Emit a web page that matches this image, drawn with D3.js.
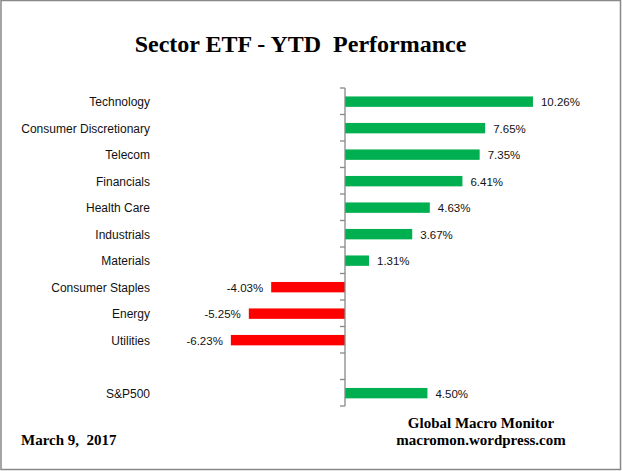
<!DOCTYPE html>
<html><head><meta charset="utf-8">
<script src="https://cdn.jsdelivr.net/npm/d3@7"></script>
<style>body{margin:0;background:#fff}svg{display:block}</style>
</head><body>
<script>
const categories = ["Technology","Consumer Discretionary","Telecom","Financials","Health Care","Industrials","Materials","Consumer Staples","Energy","Utilities","","S&P500"];
const values = [10.26,7.65,7.35,6.41,4.63,3.67,1.31,-4.03,-5.25,-6.23,null,4.50];
const valueLabels = ["10.26%","7.65%","7.35%","6.41%","4.63%","3.67%","1.31%","-4.03%","-5.25%","-6.23%","","4.50%"];
const title = "Sector ETF - YTD\u00a0 Performance";
const dateText = "March 9,\u00a0 2017";
const sourceLines = ["Global Macro Monitor","macromon.wordpress.com"];

const W = 622, H = 471;
const svg = d3.select("body").append("svg").attr("width", W).attr("height", H);
svg.append("rect").attr("x",1).attr("y",0.5).attr("width",619.5).attr("height",469)
  .attr("fill","#fff").attr("stroke","#888").attr("stroke-width",1.5);

const x = d3.scaleLinear().domain([-10, 12]).range([345 - 183.2, 345 + 219.84]);
const idx = categories.map((d,i)=>i);
const yb = d3.scaleBand().domain(idx).range([88, 406]);

svg.append("text").attr("x", 300.5).attr("y", 52).attr("text-anchor","middle")
  .attr("font-family","Liberation Serif, Times New Roman, serif").attr("font-weight","bold")
  .attr("font-size", 24).attr("fill","#000").text(title);

// category labels
svg.append("g").selectAll("text").data(idx).join("text")
  .attr("x", 150).attr("y", i => yb(i) + yb.bandwidth()/2 + 1).attr("dy","0.35em")
  .attr("text-anchor","end").attr("font-family","Liberation Sans, Arial, sans-serif")
  .attr("font-size", 12).attr("fill","#111").text(i => categories[i]);

// bars
const bi = idx.filter(i => values[i] !== null);
svg.append("g").selectAll("rect").data(bi).join("rect")
  .attr("x", i => x(Math.min(0, values[i])))
  .attr("width", i => Math.abs(x(values[i]) - x(0)))
  .attr("y", i => yb(i) + yb.bandwidth()/2 - 4.8)
  .attr("height", 10.4)
  .attr("fill", i => values[i] >= 0 ? "#00B050" : "#FF0000");

// value labels
svg.append("g").selectAll("text").data(bi).join("text")
  .attr("x", i => values[i] >= 0 ? x(values[i]) + 8 : x(values[i]) - 8)
  .attr("y", i => yb(i) + yb.bandwidth()/2 + 1).attr("dy","0.35em")
  .attr("text-anchor", i => values[i] >= 0 ? "start" : "end")
  .attr("font-family","Liberation Sans, Arial, sans-serif")
  .attr("font-size", 11.5).attr("fill","#111").text(i => valueLabels[i]);

// axis
const axisG = svg.append("g").attr("transform", `translate(${x(0)},0)`);
axisG.append("line").attr("x1",0).attr("x2",0).attr("y1",88).attr("y2",406).attr("stroke","#888").attr("stroke-width",1.3);
const tickYs = idx.map(i => yb(i)).concat([406]);
axisG.selectAll("line.t").data(tickYs).join("line").attr("class","t")
  .attr("x1",-5).attr("x2",0).attr("y1",d=>d).attr("y2",d=>d).attr("stroke","#888").attr("stroke-width",1.3);

svg.append("text").attr("x", 21).attr("y", 445)
  .attr("font-family","Liberation Serif, Times New Roman, serif").attr("font-weight","bold")
  .attr("font-size", 15).attr("fill","#000").text(dateText);

svg.append("g").selectAll("text").data(sourceLines).join("text")
  .attr("x", 481).attr("y", (d,i) => 428 + i*16.5).attr("text-anchor","middle")
  .attr("font-family","Liberation Serif, Times New Roman, serif").attr("font-weight","bold")
  .attr("font-size", 15).attr("fill","#000").text(d => d);
</script>
</body></html>
